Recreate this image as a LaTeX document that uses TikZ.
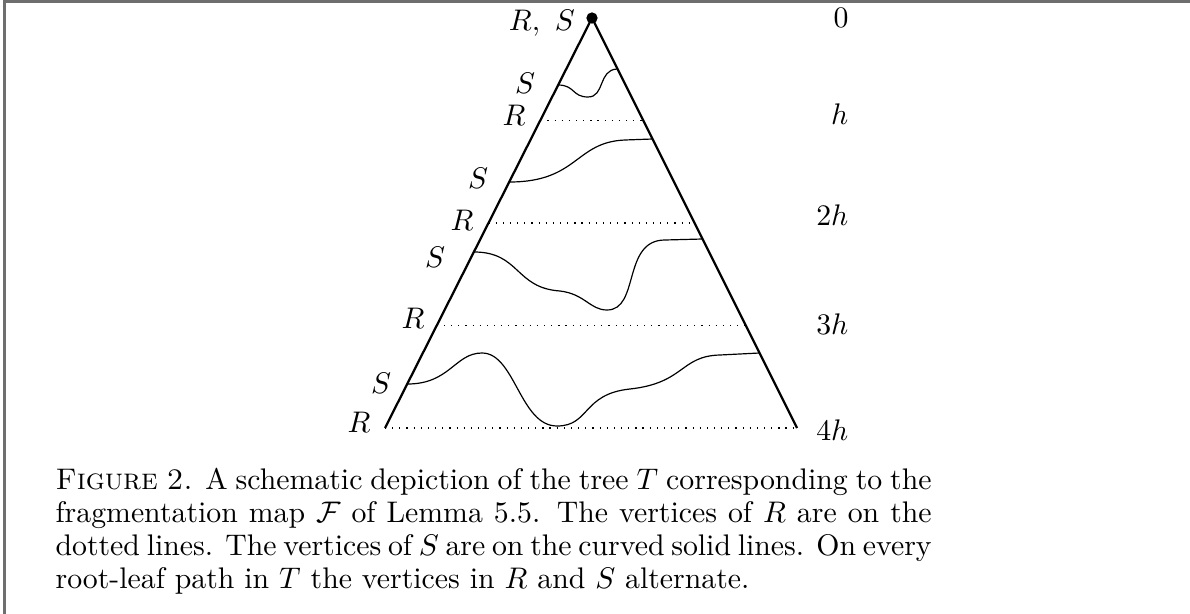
\documentclass[tikz,border=0pt]{standalone}
\usepackage{amsmath,amssymb}
\usepackage{tikz}
\usetikzlibrary{calc,positioning}
\definecolor{Frame}{HTML}{6E6E6E}

\begin{document}
\begin{tikzpicture}[x=0.0118cm,y=-0.0118cm,
      edge/.style={line width=0.75pt},
      rlevel/.style={dotted},
      sline/.style={line width=0.4pt},
      hlab/.style={anchor=east,inner sep=0pt}]
    \useasboundingbox (0,0) rectangle (1190,614);
    \draw[Frame,line width=0.7pt] (4.5,614) -- (4.5,1.5) -- (1190,1.5);
    % the tree
    \node[circle,fill,inner sep=0pt,minimum size=3.8pt] (apex) at (592,18) {};
    \coordinate (bl) at (385,428);
    \coordinate (br) at (797,428);
    \draw[edge] (bl) -- (apex.center) -- (br);
    % dotted levels of R
    \foreach \t in {0.25,0.5,0.75,1}
      \draw[rlevel] ($(apex.center)!\t!(bl)$) -- ($(apex.center)!\t!(br)$);
    % curved levels of S
    \draw[sline] (558,85) .. controls (575,85) and (572,97) .. (588,97)
      .. controls (605,97) and (598,70) .. (617,69);
    \draw[sline] (509.5,182) .. controls (578,182) and (575,142) .. (625,140)
      -- (652.5,139);
    \draw[sline] (474,252) .. controls (520,252) and (515,288) .. (560,291)
      .. controls (585,294) and (590,310) .. (607,310)
      .. controls (640,310) and (622,240) .. (665,240) -- (702.5,239);
    \draw[sline] (407.5,384) .. controls (450,384) and (455,353) .. (482,353)
      .. controls (515,353) and (520,426) .. (557,426)
      .. controls (590,426) and (582,394) .. (630,389)
      .. controls (685,383) and (680,356) .. (720,355) -- (759.5,353);
    % labels on the left
    \node (rs) at (542,23) {$R,\ S$};
    \node (s1) at (525,83) {$S$};
    \node (r1) at (514,115) {$R$};
    \node (s2) at (478,178) {$S$};
    \node (r2) at (462,220) {$R$};
    \node (s3) at (435,257) {$S$};
    \node (r3) at (413,318) {$R$};
    \node (s4) at (381,383) {$S$};
    \node (r4) at (359,422) {$R$};
    % heights on the right
    \node[hlab] (h0) at (849,18) {$0$};
    \node[hlab] (h1) at (849,114) {$h$};
    \node[hlab] (h2) at (849,215) {$2h$};
    \node[hlab] (h3) at (849,324) {$3h$};
    \node[hlab] (h4) at (849,430) {$4h$};
    % caption
    \node[anchor=north west,inner sep=0pt,text width=294pt,align=justify,
          font=\fontsize{10}{11}\selectfont]
      (caption) at (55,468) {\textsc{Figure 2.} A schematic depiction of the
      tree $T$ corresponding to the\linebreak fragmentation map
      $\mathcal{F}$ of Lemma 5.5.  The vertices of $R$ are on the\linebreak
      dotted lines. The vertices of $S$ are on the curved solid lines. On
      every\linebreak root-leaf path in $T$ the vertices in $R$ and $S$
      alternate.};
  \end{tikzpicture}
\end{document}
